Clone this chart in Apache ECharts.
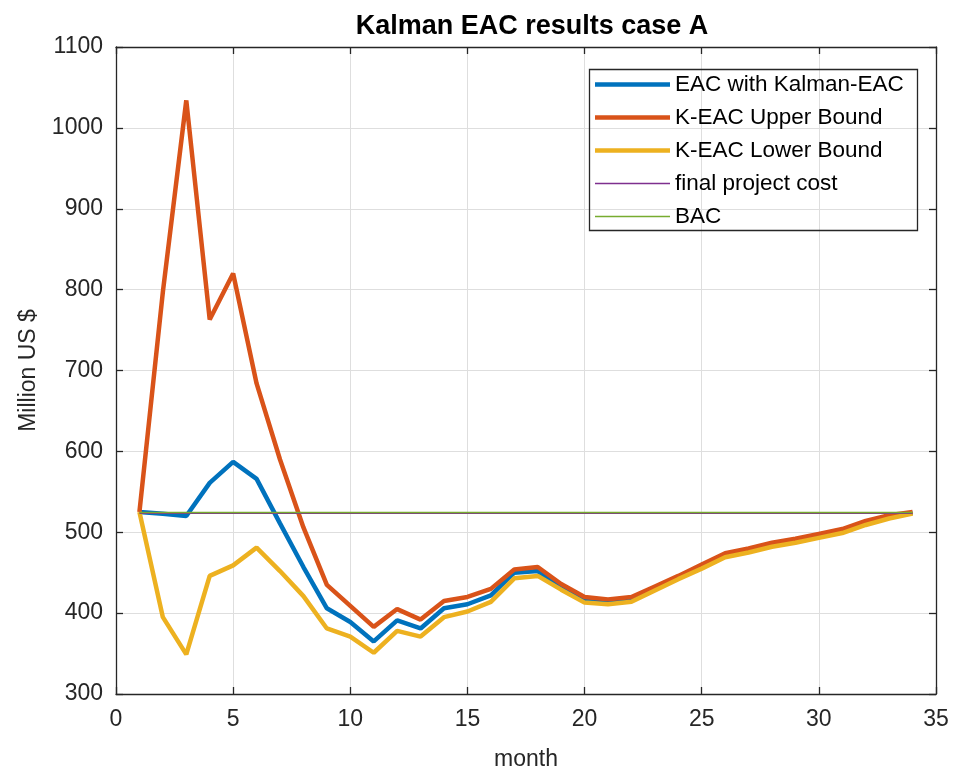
<!DOCTYPE html>
<html>
<head>
<meta charset="utf-8">
<script src="https://cdn.jsdelivr.net/npm/echarts@6/dist/echarts.min.js"></script>
<style>
html,body{margin:0;padding:0;background:#fff;}
#chart{width:953px;height:772px;}
</style>
</head>
<body>
<div id="chart"></div>
<script>
const months = [1,2,3,4,5,6,7,8,9,10,11,12,13,14,15,16,17,18,19,20,21,22,23,24,25,26,27,28,29,30,31,32,33,34];
const eacKalman = [525,523,520,561,587,566,511,457,406,389,365,391,381,406,411,422,450,452,432,417,414,417,430,444,457,471,477,484,489,495,501,511,519,524];
const upperBound = [525,797,1034,763,820,684,590,506,435,409,383,405,392,415,420,430,454,457,436,420,417,420,433,446,460,474,480,487,492,498,504,514,521,525];
const lowerBound = [525,395,349,446,459,481,452,421,381,371,351,378,371,395,402,414,443,446,429,413,411,414,428,442,455,469,475,482,487,493,499,509,517,523];
const finalCostMonths = [1,34];
const finalCost = [523.5,523.5];
const bacMonths = [1,34];
const bac = [524.5,524.5];
const seriesNames = ['EAC with Kalman-EAC','K-EAC Upper Bound','K-EAC Lower Bound','final project cost','BAC'];
const xTicks = {min:0, max:35, interval:5};
const yTicks = {min:300, max:1100, interval:100};

function pairs(xs, ys){ return xs.map((x,i)=>[x, ys[i]]); }

const FONT = '"Liberation Sans", Arial, Helvetica, sans-serif';
const TXT = '#262626';
const THICK_ICON = 'path://M0,0 H75 V4.5 H0 Z';
const THIN_ICON = 'path://M0,0 H75 V1.5 H0 Z';
const chart = echarts.init(document.getElementById('chart'), null, {renderer:'canvas'});

const axisCommon = {
  axisLine:{show:true, onZero:false, lineStyle:{color:TXT, width:1.3}},
  axisTick:{show:true, inside:true, length:7, lineStyle:{color:TXT, width:1.3}},
};

const option = {
  backgroundColor:'#fff',
  animation:false,
  title:{
    text:'Kalman EAC results case A',
    left:527, top:8, textAlign:'center',
    textStyle:{fontFamily:FONT, fontSize:27, fontWeight:'bold', color:'#000'}
  },
  grid:{left:116, right:17, top:47, bottom:78, containLabel:false, outerBoundsMode:'none'},
  legend:{
    show:true,
    orient:'vertical', left:589, top:67,
    padding:[6,10,5,6],
    itemWidth:75, itemHeight:14, itemGap:10,
    symbolKeepAspect:true,
    data:[
      {name:seriesNames[0], icon:THICK_ICON},
      {name:seriesNames[1], icon:THICK_ICON},
      {name:seriesNames[2], icon:THICK_ICON},
      {name:seriesNames[3], icon:THIN_ICON},
      {name:seriesNames[4], icon:THIN_ICON}
    ],
    textStyle:{fontFamily:FONT, fontSize:22.5, color:'#000', lineHeight:22}
  },
  graphic:[{
    type:'rect', left:587, top:67, z:100, silent:true,
    shape:{width:328, height:161},
    style:{fill:'none', stroke:TXT, lineWidth:1.3}
  }],
  xAxis:[
    Object.assign({
      type:'value', position:'bottom', min:xTicks.min, max:xTicks.max, interval:xTicks.interval,
      name:'month', nameLocation:'middle', nameGap:54,
      nameTextStyle:{fontFamily:FONT, fontSize:23, color:TXT},
      axisLabel:{fontFamily:FONT, fontSize:23, color:TXT, margin:14},
      splitLine:{show:true, lineStyle:{color:'#dedede', width:1}}
    }, axisCommon),
    Object.assign({
      type:'value', position:'top', min:xTicks.min, max:xTicks.max, interval:xTicks.interval,
      axisLabel:{show:false}, splitLine:{show:false}
    }, axisCommon)
  ],
  yAxis:[
    Object.assign({
      type:'value', position:'left', min:yTicks.min, max:yTicks.max, interval:yTicks.interval,
      name:'Million US $', nameLocation:'middle', nameGap:76, nameRotate:90,
      nameTextStyle:{fontFamily:FONT, fontSize:23, color:TXT},
      axisLabel:{fontFamily:FONT, fontSize:23, color:TXT, margin:13, formatter:function(v){return String(v);}},
      splitLine:{show:true, lineStyle:{color:'#dedede', width:1}}
    }, axisCommon),
    Object.assign({
      type:'value', position:'right', min:yTicks.min, max:yTicks.max, interval:yTicks.interval,
      axisLabel:{show:false}, splitLine:{show:false}
    }, axisCommon)
  ],
  series:[
    {name:seriesNames[0], type:'line', data:pairs(months,eacKalman), symbol:'none', color:'#0072BD', lineStyle:{width:4.5, color:'#0072BD'}, z:2},
    {name:seriesNames[1], type:'line', data:pairs(months,upperBound), symbol:'none', color:'#D95319', lineStyle:{width:4.5, color:'#D95319'}, z:3},
    {name:seriesNames[2], type:'line', data:pairs(months,lowerBound), symbol:'none', color:'#EDB120', lineStyle:{width:4.5, color:'#EDB120'}, z:4},
    {name:seriesNames[3], type:'line', data:pairs(finalCostMonths,finalCost), symbol:'none', color:'#7E2F8E', lineStyle:{width:1.5, color:'#7E2F8E'}, z:5},
    {name:seriesNames[4], type:'line', data:pairs(bacMonths,bac), symbol:'none', color:'#77AC30', lineStyle:{width:1.5, color:'#77AC30'}, z:6}
  ]
};
chart.setOption(option);
</script>
</body>
</html>
